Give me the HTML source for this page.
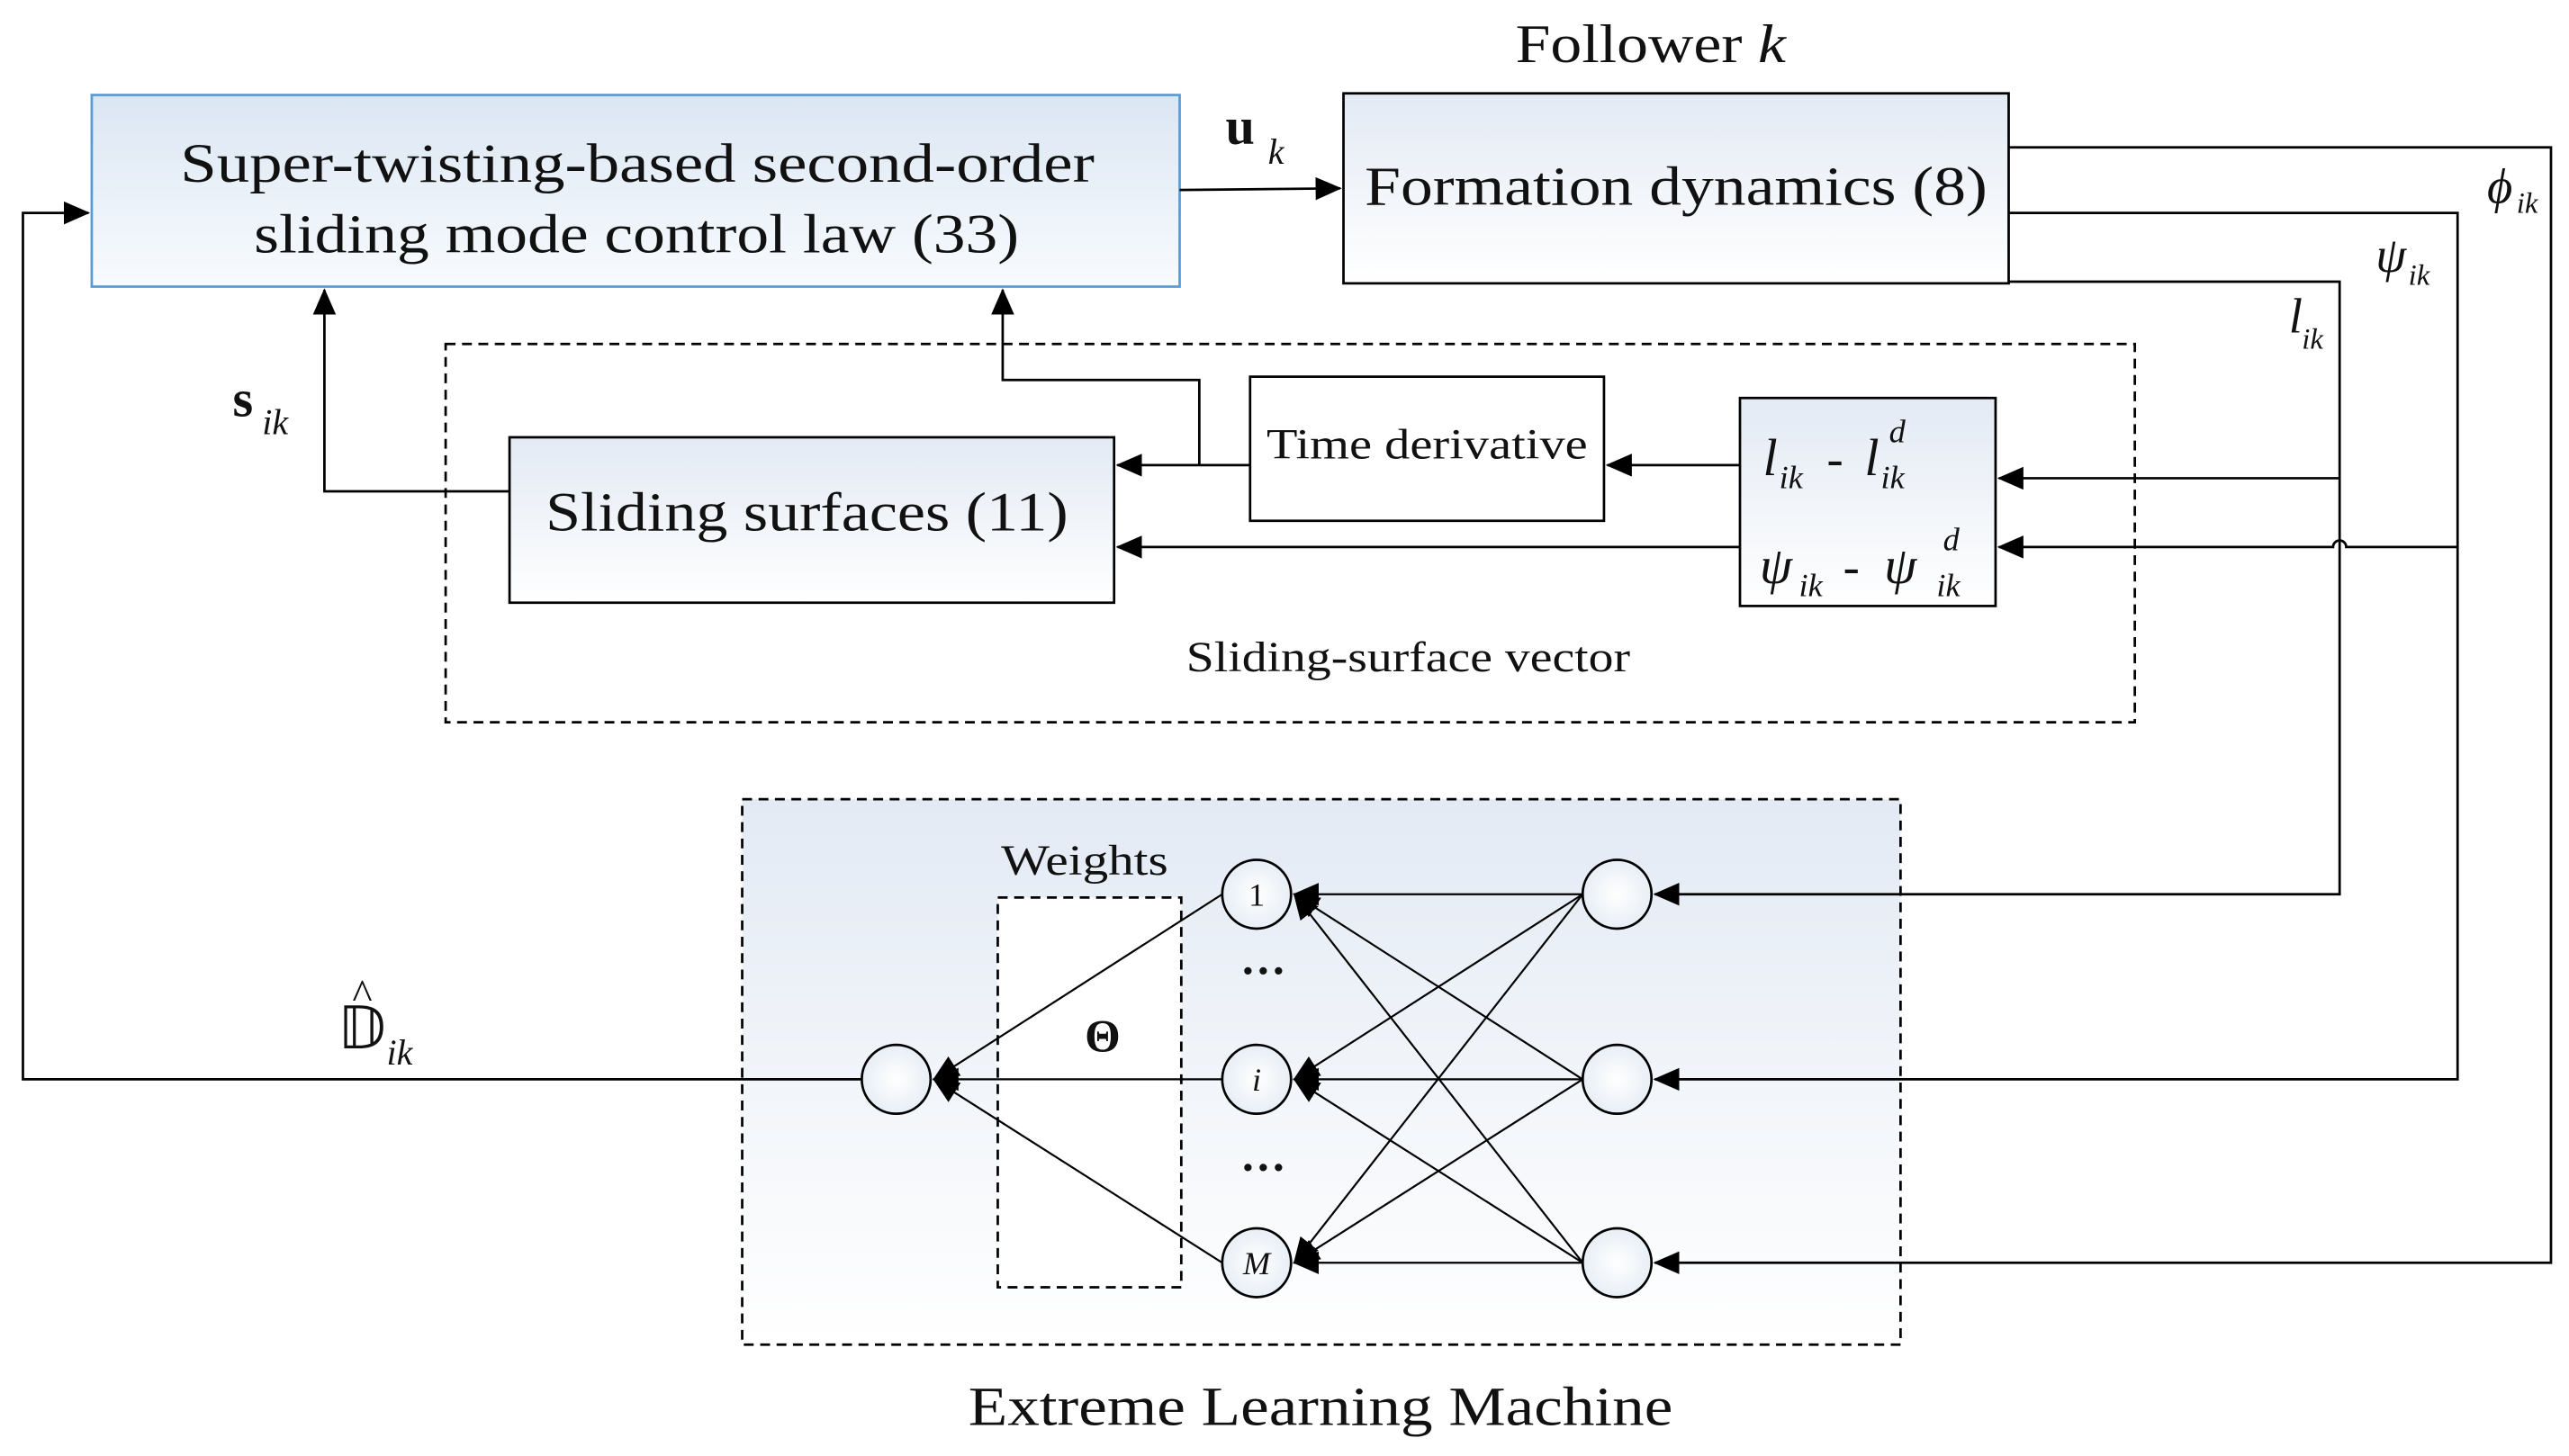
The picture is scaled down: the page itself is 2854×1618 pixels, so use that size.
<!DOCTYPE html>
<html><head><meta charset="utf-8"><style>
html,body{margin:0;padding:0;background:#fff;}
svg{display:block;}
text{font-family:"Liberation Serif",serif;fill:#111;}
</style></head><body>
<svg width="2854" height="1618" viewBox="0 0 1568 889" preserveAspectRatio="none" xmlns="http://www.w3.org/2000/svg">
<defs>
<marker id="b" markerWidth="16" markerHeight="14" refX="15" refY="7" orient="auto" markerUnits="userSpaceOnUse"><path d="M0,0 L16,7 L0,14 z" fill="#000"/></marker>
<linearGradient id="g1" x1="0" y1="0" x2="0" y2="1"><stop offset="0" stop-color="#dbe6f3"/><stop offset="1" stop-color="#f8fbfe"/></linearGradient>
<linearGradient id="g2" x1="0" y1="0" x2="0" y2="1"><stop offset="0" stop-color="#e3eaf4"/><stop offset="1" stop-color="#ffffff"/></linearGradient>
<radialGradient id="gc"><stop offset="0" stop-color="#fff"/><stop offset="1" stop-color="#e8eef6"/></radialGradient>
</defs>
<g stroke="#000" stroke-width="1.5" fill="none">
<rect x="453" y="488" width="707" height="333" fill="url(#g2)" stroke-dasharray="6,4"/>
<rect x="609" y="548" width="112" height="238" fill="#fff" stroke-dasharray="6,4"/>
<rect x="56" y="58" width="664" height="117" fill="url(#g1)" stroke="#5b9bd5"/>
<rect x="820" y="57" width="406" height="116" fill="url(#g2)"/>
<rect x="272" y="210" width="1031" height="231" stroke-dasharray="6,4"/>
<rect x="311" y="267" width="369" height="101" fill="url(#g2)"/>
<rect x="763" y="230" width="216" height="88" fill="#fff"/>
<rect x="1062" y="243" width="156" height="127" fill="url(#g2)"/>
<path d="M720,116 L818,115" marker-end="url(#b)"/>
<path d="M1226,90 H1557 V771 H1010" marker-end="url(#b)"/>
<path d="M1226,130 H1500 V659 H1010" marker-end="url(#b)"/>
<path d="M1226,172 H1428 V546 H1010" marker-end="url(#b)"/>
<path d="M1428,292 H1220" marker-end="url(#b)"/>
<path d="M1500,334 H1432 A4,4 0 0 0 1424,334 H1220" marker-end="url(#b)"/>
<path d="M1062,284 H981" marker-end="url(#b)"/>
<path d="M763,284 H682" marker-end="url(#b)"/>
<path d="M732,284 V232 H612 V177" marker-end="url(#b)"/>
<path d="M1062,334 H682" marker-end="url(#b)"/>
<path d="M311,300 H198 V177" marker-end="url(#b)"/>
<path d="M526,659 H14 V130 H54" marker-end="url(#b)"/>
<g stroke-width="1.2">
<path d="M966,546 H790" marker-end="url(#b)"/>
<path d="M966,546 L790,659" marker-end="url(#b)"/>
<path d="M966,546 L790,771" marker-end="url(#b)"/>
<path d="M966,659 L790,546" marker-end="url(#b)"/>
<path d="M966,659 H790" marker-end="url(#b)"/>
<path d="M966,659 L790,771" marker-end="url(#b)"/>
<path d="M966,771 L790,546" marker-end="url(#b)"/>
<path d="M966,771 L790,659" marker-end="url(#b)"/>
<path d="M966,771 H790" marker-end="url(#b)"/>
<path d="M746,546 L570,659" marker-end="url(#b)"/>
<path d="M746,659 H570" marker-end="url(#b)"/>
<path d="M746,771 L570,659" marker-end="url(#b)"/>
</g>
<g fill="url(#gc)">
<circle cx="547" cy="659" r="21"/>
<circle cx="767" cy="546" r="21"/><circle cx="767" cy="659" r="21"/><circle cx="767" cy="771" r="21"/>
<circle cx="987" cy="546" r="21"/><circle cx="987" cy="659" r="21"/><circle cx="987" cy="771" r="21"/>
</g>
</g>
<text x="925" y="38" font-size="33" textLength="165" lengthAdjust="spacingAndGlyphs">Follower <tspan font-style="italic">k</tspan></text>
<text x="110" y="111" font-size="34" textLength="558" lengthAdjust="spacingAndGlyphs">Super-twisting-based second-order</text>
<text x="155" y="154" font-size="34" textLength="467" lengthAdjust="spacingAndGlyphs">sliding mode control law (33)</text>
<text x="748" y="88" font-size="32" font-weight="bold">u</text><text x="774" y="100" font-size="22" font-style="italic">k</text>
<text x="833" y="125" font-size="34" textLength="380" lengthAdjust="spacingAndGlyphs">Formation dynamics (8)</text>
<text x="1518" y="124" font-size="30" font-style="italic">ϕ</text><text x="1536" y="130" font-size="18" font-style="italic">ik</text>
<text x="1450" y="166" font-size="30" font-style="italic">ψ</text><text x="1470" y="174" font-size="18" font-style="italic">ik</text>
<text x="1397" y="203" font-size="30" font-style="italic">l</text><text x="1405" y="213" font-size="18" font-style="italic">ik</text>
<text x="142" y="254" font-size="32" font-weight="bold">s</text><text x="160" y="265" font-size="22" font-style="italic">ik</text>
<text x="333" y="324" font-size="34" textLength="319" lengthAdjust="spacingAndGlyphs">Sliding surfaces (11)</text>
<text x="773" y="280" font-size="26" textLength="196" lengthAdjust="spacingAndGlyphs">Time derivative</text>
<text x="1076" y="290" font-size="32" font-style="italic">l</text>
<text x="1086" y="298" font-size="20" font-style="italic">ik</text>
<text x="1115" y="290" font-size="30">-</text>
<text x="1138" y="290" font-size="32" font-style="italic">l</text>
<text x="1148" y="298" font-size="20" font-style="italic">ik</text>
<text x="1153" y="270" font-size="20" font-style="italic">d</text>
<text x="1074" y="356" font-size="32" font-style="italic">ψ</text>
<text x="1098" y="364" font-size="20" font-style="italic">ik</text>
<text x="1125" y="356" font-size="30">-</text>
<text x="1150" y="356" font-size="32" font-style="italic">ψ</text>
<text x="1182" y="364" font-size="20" font-style="italic">ik</text>
<text x="1186" y="336" font-size="20" font-style="italic">d</text>
<text x="724" y="410" font-size="26" textLength="271" lengthAdjust="spacingAndGlyphs">Sliding-surface vector</text>
<text x="611" y="534" font-size="26" textLength="102" lengthAdjust="spacingAndGlyphs">Weights</text>
<text x="673" y="642" font-size="28" font-weight="bold" text-anchor="middle">Θ</text>
<text x="206" y="640" font-size="36">𝔻</text><text x="236" y="650" font-size="22" font-style="italic">ik</text>
<text x="215" y="616" font-size="26">^</text>
<text x="767" y="553" font-size="20" text-anchor="middle">1</text>
<text x="767" y="666" font-size="20" font-style="italic" text-anchor="middle">i</text>
<text x="767" y="778" font-size="20" font-style="italic" text-anchor="middle">M</text>
<text x="771" y="602" font-size="28" font-weight="bold" text-anchor="middle">···</text>
<text x="771" y="722" font-size="28" font-weight="bold" text-anchor="middle">···</text>
<text x="591" y="870" font-size="34" textLength="430" lengthAdjust="spacingAndGlyphs">Extreme Learning Machine</text>
</svg>
</body></html>
